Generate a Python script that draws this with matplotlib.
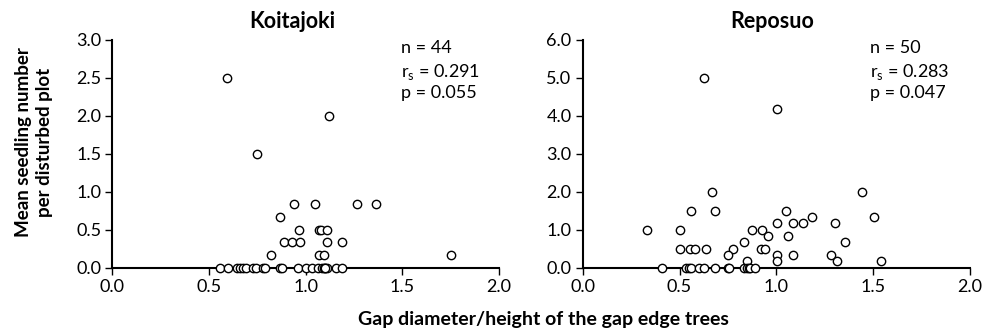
import matplotlib.pyplot as plt

# Koitajoki
koi_x = [0.591, 1.121, 0.749,
         0.942, 1.046, 1.266, 1.363,
         0.866,
         0.966, 1.068, 1.078, 1.109,
         0.889, 0.929, 0.970, 1.108, 1.190,
         0.822, 1.068, 1.094, 1.754,
         0.556, 0.596, 0.643, 0.660, 0.677, 0.691, 0.729, 0.742, 0.777, 0.792,
         0.866, 0.880, 0.963, 1.001, 1.035, 1.065, 1.082, 1.094, 1.102, 1.108,
         1.100, 1.156, 1.190]
koi_y = [2.5, 2.0, 1.5,
         0.833, 0.833, 0.833, 0.833,
         0.667,
         0.5, 0.5, 0.5, 0.5,
         0.333, 0.333, 0.333, 0.333, 0.333,
         0.167, 0.167, 0.167, 0.167,
         0, 0, 0, 0, 0, 0, 0, 0, 0, 0,
         0, 0, 0, 0, 0, 0, 0, 0, 0, 0,
         0, 0, 0]

# Reposuo
rep_x = [0.624, 1.003,
         0.669, 1.443,
         0.559, 0.683, 1.050,
         0.334, 0.500, 0.876, 0.926,
         1.186, 1.503,
         1.003, 1.086, 1.138, 1.303,
         0.957, 1.059,
         0.834, 1.355,
         0.500, 0.552, 0.579, 0.638, 0.774, 0.922, 0.940,
         0.752, 1.003, 1.086, 1.283,
         0.848, 1.003, 1.314, 1.540,
         0.409, 0.534, 0.547, 0.559, 0.600, 0.628, 0.683, 0.752, 0.755,
         0.831, 0.848, 0.857, 0.866, 0.891]
rep_y = [5.0, 4.17,
         2.0, 2.0,
         1.5, 1.5, 1.5,
         1.0, 1.0, 1.0, 1.0,
         1.33, 1.33,
         1.17, 1.17, 1.17, 1.17,
         0.83, 0.83,
         0.67, 0.67,
         0.5, 0.5, 0.5, 0.5, 0.5, 0.5, 0.5,
         0.33, 0.33, 0.33, 0.33,
         0.17, 0.17, 0.17, 0.17,
         0, 0, 0, 0, 0, 0, 0, 0, 0,
         0, 0, 0, 0, 0]

plt.rcParams['font.family'] = ['Lato', 'DejaVu Sans']
plt.rcParams['mathtext.fontset'] = 'custom'
plt.rcParams['mathtext.rm'] = 'Lato'

fig = plt.figure(figsize=(9.83, 3.32), dpi=100)
W, H = 983, 332
ax1 = fig.add_axes([112.3 / W, 1 - 267.7 / H, (499 - 112.3) / W, (267.7 - 39.5) / H])
ax2 = fig.add_axes([582.7 / W, 1 - 267.7 / H, (970 - 582.7) / W, (267.7 - 39.5) / H])

panels = [
    (ax1, koi_x, koi_y, 'Koitajoki', 292, 3.0, 0.5, 401,
     ['n = 44', r'r$_\mathregular{s}$ = 0.291', 'p = 0.055']),
    (ax2, rep_x, rep_y, 'Reposuo', 772, 6.0, 1.0, 870,
     ['n = 50', r'r$_\mathregular{s}$ = 0.283', 'p = 0.047']),
]

for ax, xs, ys, title, tx, ymax, ystep, sx, stats in panels:
    ax.scatter(xs, ys, s=36, facecolors='white', edgecolors='black', linewidths=1.0,
               clip_on=False, zorder=3)
    ax.set_xlim(0, 2.0)
    ax.set_ylim(0, ymax)
    ax.set_xticks([0, 0.5, 1.0, 1.5, 2.0])
    ax.set_xticklabels(['%.1f' % v for v in [0, 0.5, 1.0, 1.5, 2.0]])
    yt = [i * ystep for i in range(7)]
    ax.set_yticks(yt)
    ax.set_yticklabels(['%.1f' % v for v in yt])
    for side in ['top', 'right']:
        ax.spines[side].set_visible(False)
    for side in ['left', 'bottom']:
        ax.spines[side].set_linewidth(1.5)
    ax.tick_params(axis='both', direction='out', length=5, width=1, labelsize=13,
                   pad=3, colors='black')
    fig.text(tx / W, 1 - 21 / H, title, ha='center', va='center', fontsize=15.5,
             fontweight='bold')
    for s, by in zip(stats, [53.3, 76.7, 98.3]):
        fig.text(sx / W, 1 - by / H, s, fontsize=13, va='baseline', ha='left')

fig.text(34 / W, 1 - 142 / H, 'Mean seedling number\nper disturbed plot', rotation=90,
         ha='center', va='center', fontsize=13.5, fontweight='bold', linespacing=1.35)
fig.text(543 / W, 1 - 319 / H, 'Gap diameter/height of the gap edge trees',
         ha='center', va='center', fontsize=14, fontweight='bold')

fig.savefig('out.png', dpi=100)
